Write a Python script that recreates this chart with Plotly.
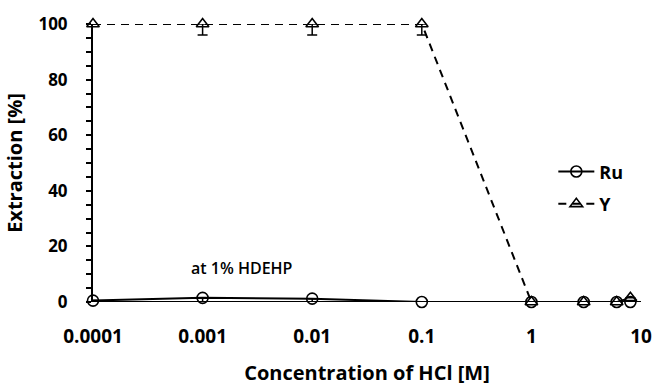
import plotly.graph_objects as go

hcl = [0.0001, 0.001, 0.01, 0.1, 1, 3, 6, 8]
ru = [0.5, 1.5, 1.2, 0.0, 0.0, 0.0, 0.0, 0.0]
ru_err_minus = [1.5, 2.5, 2.5, 1.0, 0.0, 0.0, 0.0, 0.0]
y_ext = [100, 100, 100, 100, 0.0, 0.0, 0.0, 1.5]
y_err_minus = [0, 4, 4, 4, 0, 0, 0, 0]
xtick_vals = [0.0001, 0.001, 0.01, 0.1, 1, 10]
xtick_text = ["0.0001", "0.001", "0.01", "0.1", "1", "10"]

font = "Open Sans"
fig = go.Figure()
fig.add_trace(go.Scatter(
    x=hcl, y=ru, name="Ru", mode="lines+markers", legendgroup="ru",
    line=dict(color="black", width=2),
    marker=dict(symbol="circle-open", size=11, color="black", line=dict(width=1.6)),
    error_y=dict(type="data", symmetric=False, array=[0]*len(hcl), arrayminus=ru_err_minus,
                 color="black", thickness=1.5, width=4),
    cliponaxis=False,
))
fig.add_trace(go.Scatter(
    x=hcl, y=y_ext, name="Y", mode="lines+markers", legendgroup="y",
    line=dict(color="black", width=2, dash="8px,6px"),
    marker=dict(symbol="triangle-up-open", size=11, color="black", line=dict(width=1.6)),
    error_y=dict(type="data", symmetric=False, array=[0]*len(hcl), arrayminus=y_err_minus,
                 color="black", thickness=1.5, width=5),
    cliponaxis=False,
))
fig.add_annotation(x=-2.64, y=12.4, xref="x", yref="y", text="at 1% HDEHP", showarrow=False,
                   font=dict(family=font, size=16, color="black", weight=600))
fig.update_layout(
    width=664, height=392,
    margin=dict(l=93, r=14, t=21, b=88),
    paper_bgcolor="white", plot_bgcolor="white",
    font=dict(family=font, color="black"),
    showlegend=True,
    legend=dict(x=0.84, y=0.535, xanchor="left", yanchor="top", bgcolor="rgba(0,0,0,0)",
                font=dict(family=font, size=18, color="black", weight="bold"),
                itemwidth=36, tracegroupgap=6),
    xaxis=dict(type="log", range=[-4, 1], tickvals=xtick_vals, ticktext=xtick_text,
               showgrid=False, zeroline=False, showline=False, ticks="",
               ticklabelstandoff=21,
               tickfont=dict(family=font, size=19, weight="bold"),
               title=dict(text="Concentration of HCl [M]", font=dict(family=font, size=20, weight="bold"),
                          standoff=17)),
    yaxis=dict(range=[0, 100], dtick=20, showgrid=False, zeroline=False,
               showline=True, linecolor="black", linewidth=2,
               ticks="outside", ticklen=5, tickwidth=1.5, tickcolor="black",
               ticklabelstandoff=15,
               minor=dict(dtick=5, ticks="outside", ticklen=5, tickwidth=1.5, tickcolor="black"),
               tickfont=dict(family=font, size=17, weight="bold"),
               title=dict(text="Extraction [%]", font=dict(family=font, size=20, weight="bold"),
                          standoff=10)),
)
fig.add_shape(type="line", xref="paper", yref="y", x0=0, x1=1, y0=0, y1=0,
              line=dict(color="black", width=2))
fig.write_html("out.html")
